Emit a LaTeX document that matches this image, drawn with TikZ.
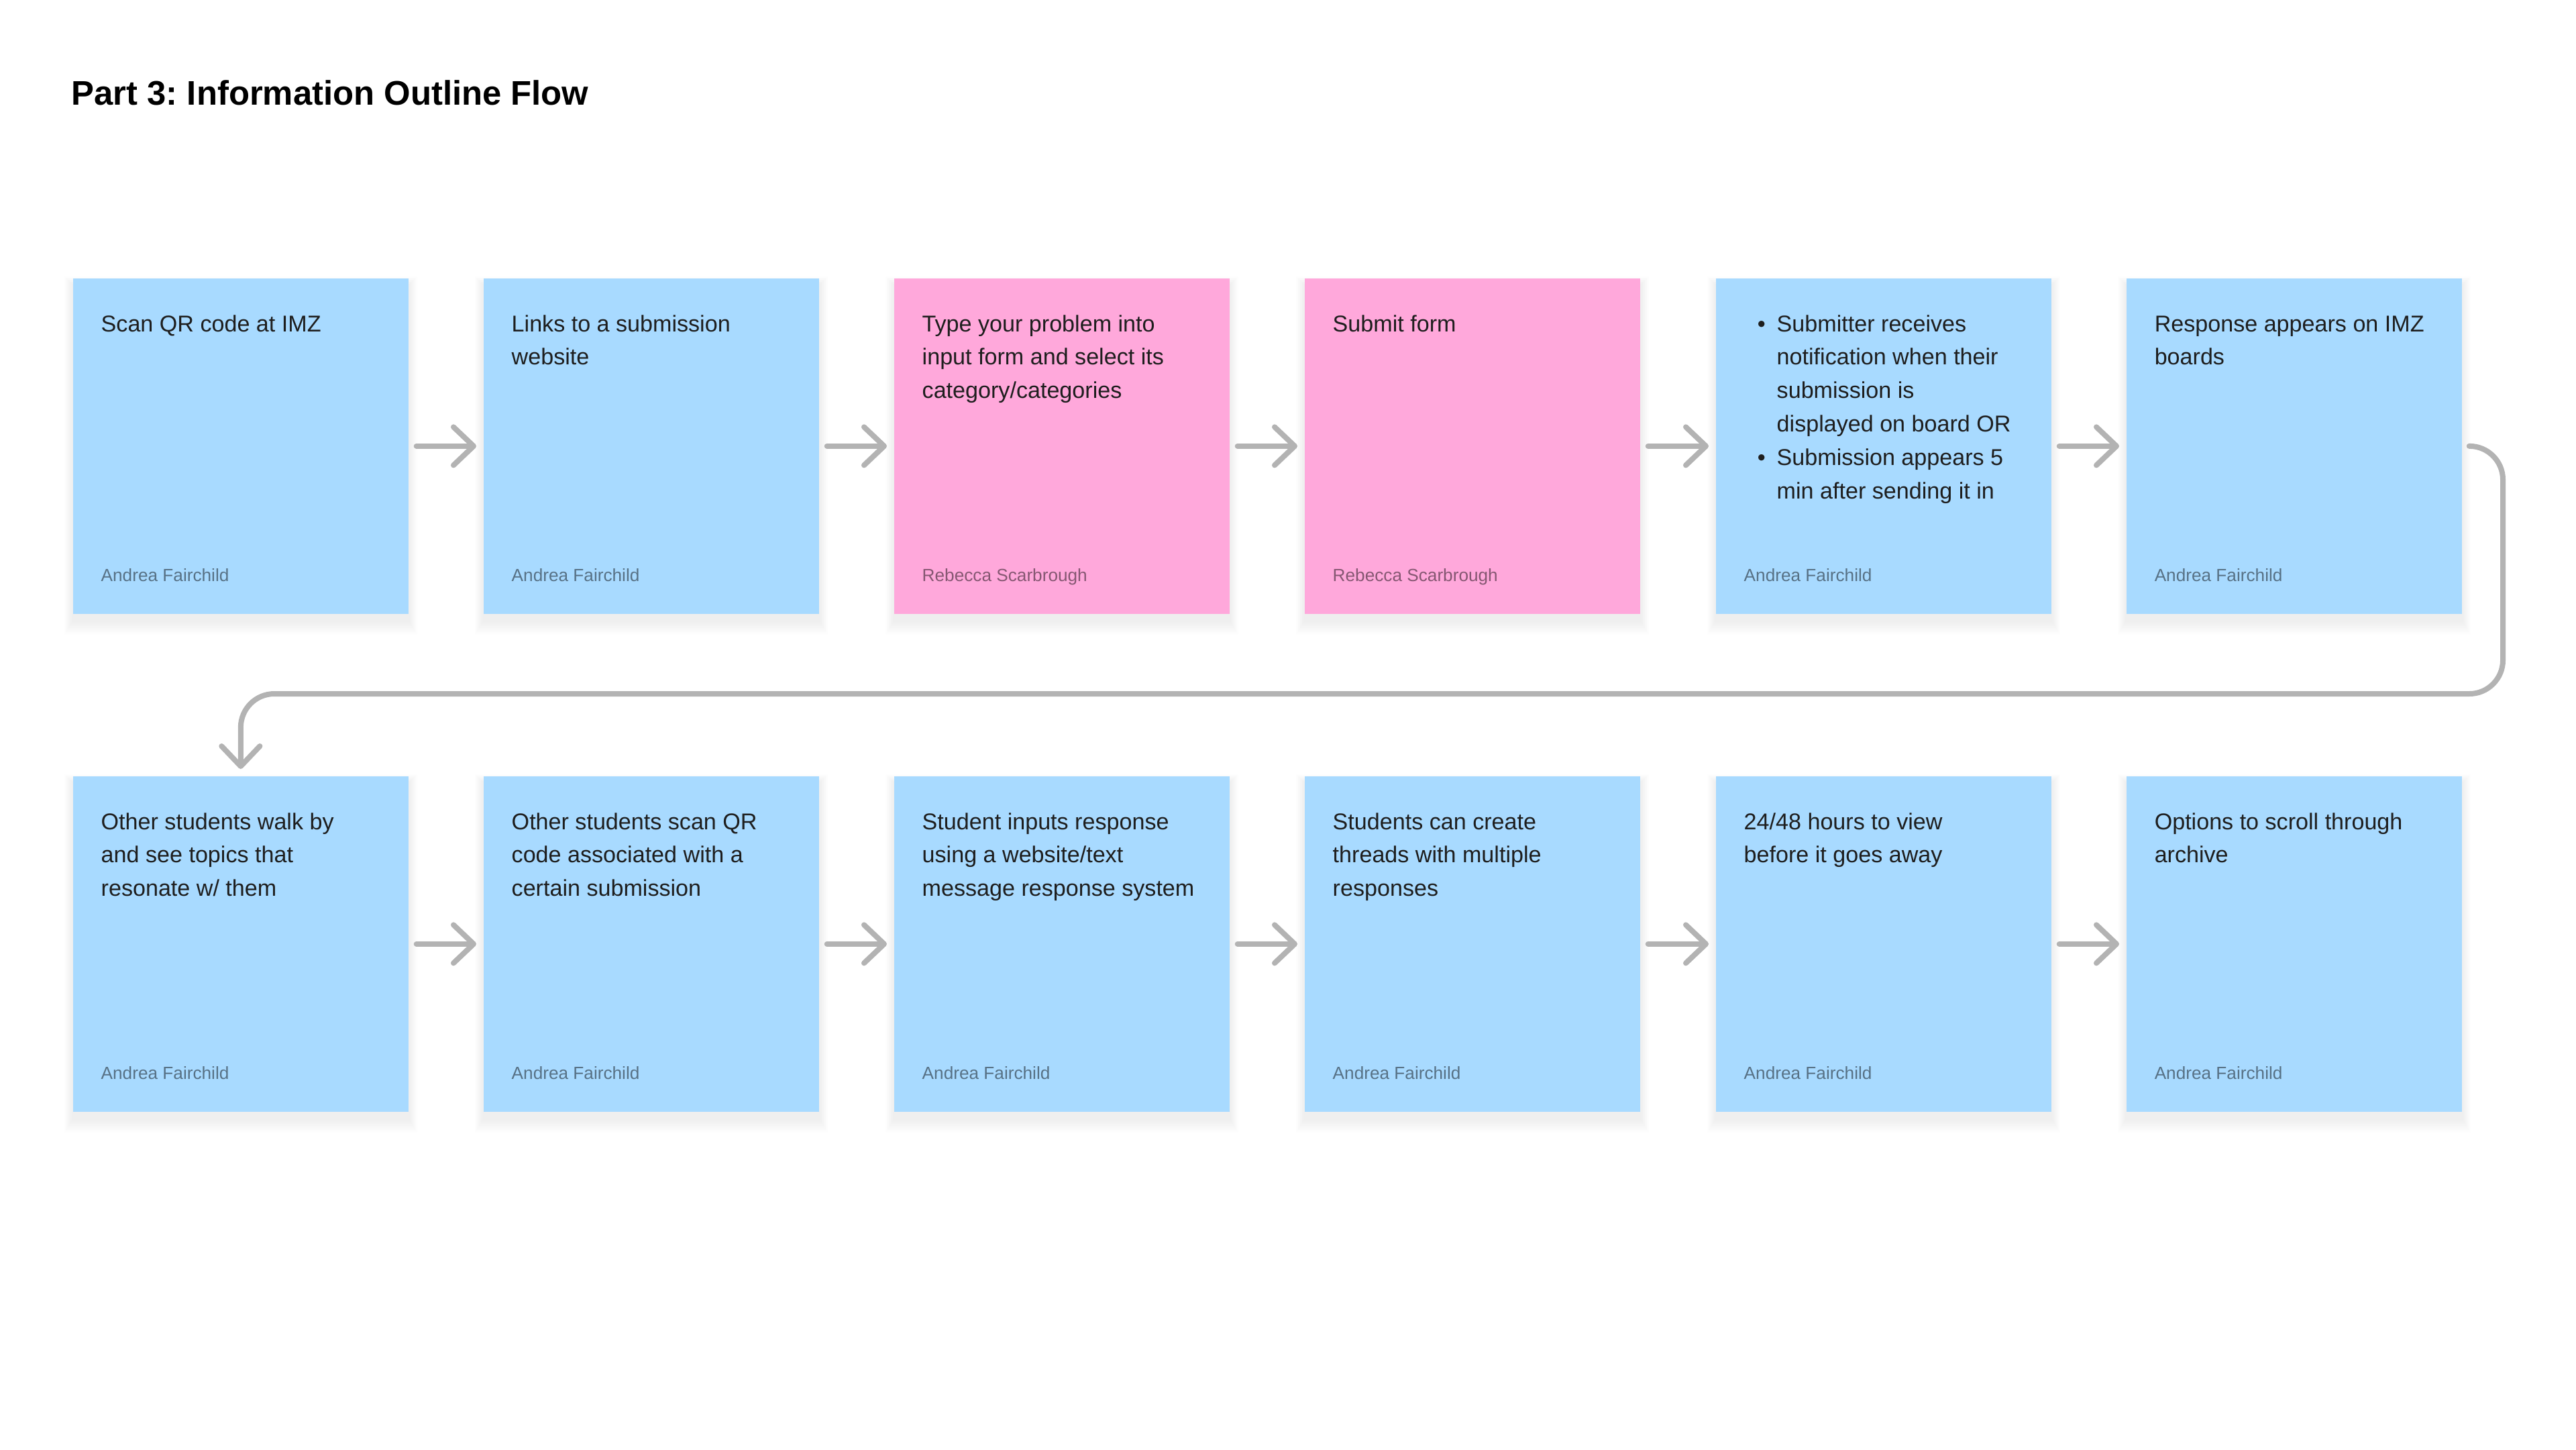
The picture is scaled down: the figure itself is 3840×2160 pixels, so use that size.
\documentclass[tikz,border=0pt]{standalone}
\usepackage{fontspec}
\setmainfont{Liberation Sans}
\usetikzlibrary{arrows.meta,backgrounds}
\definecolor{stickyblue}{HTML}{A8DAFF}
\definecolor{stickypink}{HTML}{FFA8DB}
\definecolor{conngray}{HTML}{B3B3B3}
\definecolor{inktext}{HTML}{1E1E1E}
\tikzset{
  sticky/.style={rectangle, draw=none, inner sep=0pt, minimum width=5cm, minimum height=5cm, anchor=north west},
  bluesticky/.style={sticky, fill=stickyblue},
  pinksticky/.style={sticky, fill=stickypink},
  maintext/.style={anchor=base west, inner sep=0pt, text=inktext, font=\fontsize{9.7pt}{14.2pt}\selectfont},
  authortext/.style={anchor=base west, inner sep=0pt, text=black, text opacity=0.48, font=\fontsize{7.45pt}{9pt}\selectfont},
  titletext/.style={anchor=base west, inner sep=0pt, text=black, font=\fontsize{14.45pt}{18pt}\selectfont\bfseries},
  conn/.style={draw=conngray, line width=0.08cm, line cap=round, line join=round,
    -{Straight Barb[length=0.3cm,width=0.57cm,round]}},
  flow/.style={conn, shorten <=0.11cm, shorten >=0.1cm},
}
\frenchspacing
\newcommand{\bul}{\llap{•\hspace{0.17cm}}}
\newcommand{\txtlines}[1]{\begin{tabular}[t]{@{}l@{}}#1\end{tabular}}
\begin{document}
\begin{tikzpicture}[x=0.01cm, y=-0.01cm]
\useasboundingbox (0,0) rectangle (3840,2160);

\node[titletext] (title) at (106,156) {Part 3: Information Outline Flow};

% row 1
\node[bluesticky] (b1) at (108,414) {};
\node[bluesticky] (b2) at (720,414) {};
\node[pinksticky] (b3) at (1332,414) {};
\node[pinksticky] (b4) at (1944,414) {};
\node[bluesticky] (b5) at (2557,414) {};
\node[bluesticky] (b6) at (3169,414) {};
% row 2
\node[bluesticky] (b7) at (108,1156) {};
\node[bluesticky] (b8) at (720,1156) {};
\node[bluesticky] (b9) at (1332,1156) {};
\node[bluesticky] (b10) at (1944,1156) {};
\node[bluesticky] (b11) at (2557,1156) {};
\node[bluesticky] (b12) at (3169,1156) {};

% texts
\node[maintext] (t1) at ([shift={(42,80)}]b1.north west) {\txtlines{Scan QR code at IMZ}};
\node[maintext] (t2) at ([shift={(42,80)}]b2.north west) {\txtlines{Links to a submission\\website}};
\node[maintext] (t3) at ([shift={(42,80)}]b3.north west) {\txtlines{Type your problem into\\input form and select its\\category/categories}};
\node[maintext] (t4) at ([shift={(42,80)}]b4.north west) {\txtlines{Submit form}};
\node[maintext] (t5) at ([shift={(91,80)}]b5.north west) {\txtlines{\bul Submitter receives\\notification when their\\submission is\\displayed on board OR\\\bul Submission appears 5\\min after sending it in}};
\node[maintext] (t6) at ([shift={(42,80)}]b6.north west) {\txtlines{Response appears on IMZ\\boards}};
\node[maintext] (t7) at ([shift={(42,80)}]b7.north west) {\txtlines{Other students walk by\\and see topics that\\resonate w/ them}};
\node[maintext] (t8) at ([shift={(42,80)}]b8.north west) {\txtlines{Other students scan QR\\code associated with a\\certain submission}};
\node[maintext] (t9) at ([shift={(42,80)}]b9.north west) {\txtlines{Student inputs response\\using a website/text\\message response system}};
\node[maintext] (t10) at ([shift={(42,80)}]b10.north west) {\txtlines{Students can create\\threads with multiple\\responses}};
\node[maintext] (t11) at ([shift={(42,80)}]b11.north west) {\txtlines{24/48 hours to view\\before it goes away}};
\node[maintext] (t12) at ([shift={(42,80)}]b12.north west) {\txtlines{Options to scroll through\\archive}};

% authors
\foreach \n in {b1,b2,b5,b6,b7,b8,b9,b10,b11,b12}{
  \node[authortext] (a-\n) at ([shift={(42,452)}]\n.north west) {Andrea Fairchild};
}
\foreach \n in {b3,b4}{
  \node[authortext] (a-\n) at ([shift={(42,452)}]\n.north west) {Rebecca Scarbrough};
}

% connectors
\draw[flow] (b1) -- (b2);
\draw[flow] (b2) -- (b3);
\draw[flow] (b3) -- (b4);
\draw[flow] (b4) -- (b5);
\draw[flow] (b5) -- (b6);
\draw[flow] (b7) -- (b8);
\draw[flow] (b8) -- (b9);
\draw[flow] (b9) -- (b10);
\draw[flow] (b10) -- (b11);
\draw[flow] (b11) -- (b12);
\coordinate (turn) at (3731,1034);
\draw[conn, rounded corners=0.5cm] ([xshift=0.1cm]b6.east) -| (turn) -| ([yshift=0.1cm]b7.north);

% background and soft shadows
\begin{scope}[on background layer]
\fill[white] (0,0) rectangle (3840,2160);
\foreach \n in {b1,b2,b3,b4,b5,b6,b7,b8,b9,b10,b11,b12}{
  \foreach \k in {1,...,8}{
    \fill[black, opacity=0.006] ([shift={(-\k*1.5, 10-\k*1.5)}]\n.north west) rectangle ([shift={(\k*1.5, 10+\k*2.5)}]\n.south east);
  }
}
\end{scope}
\end{tikzpicture}
\end{document}
